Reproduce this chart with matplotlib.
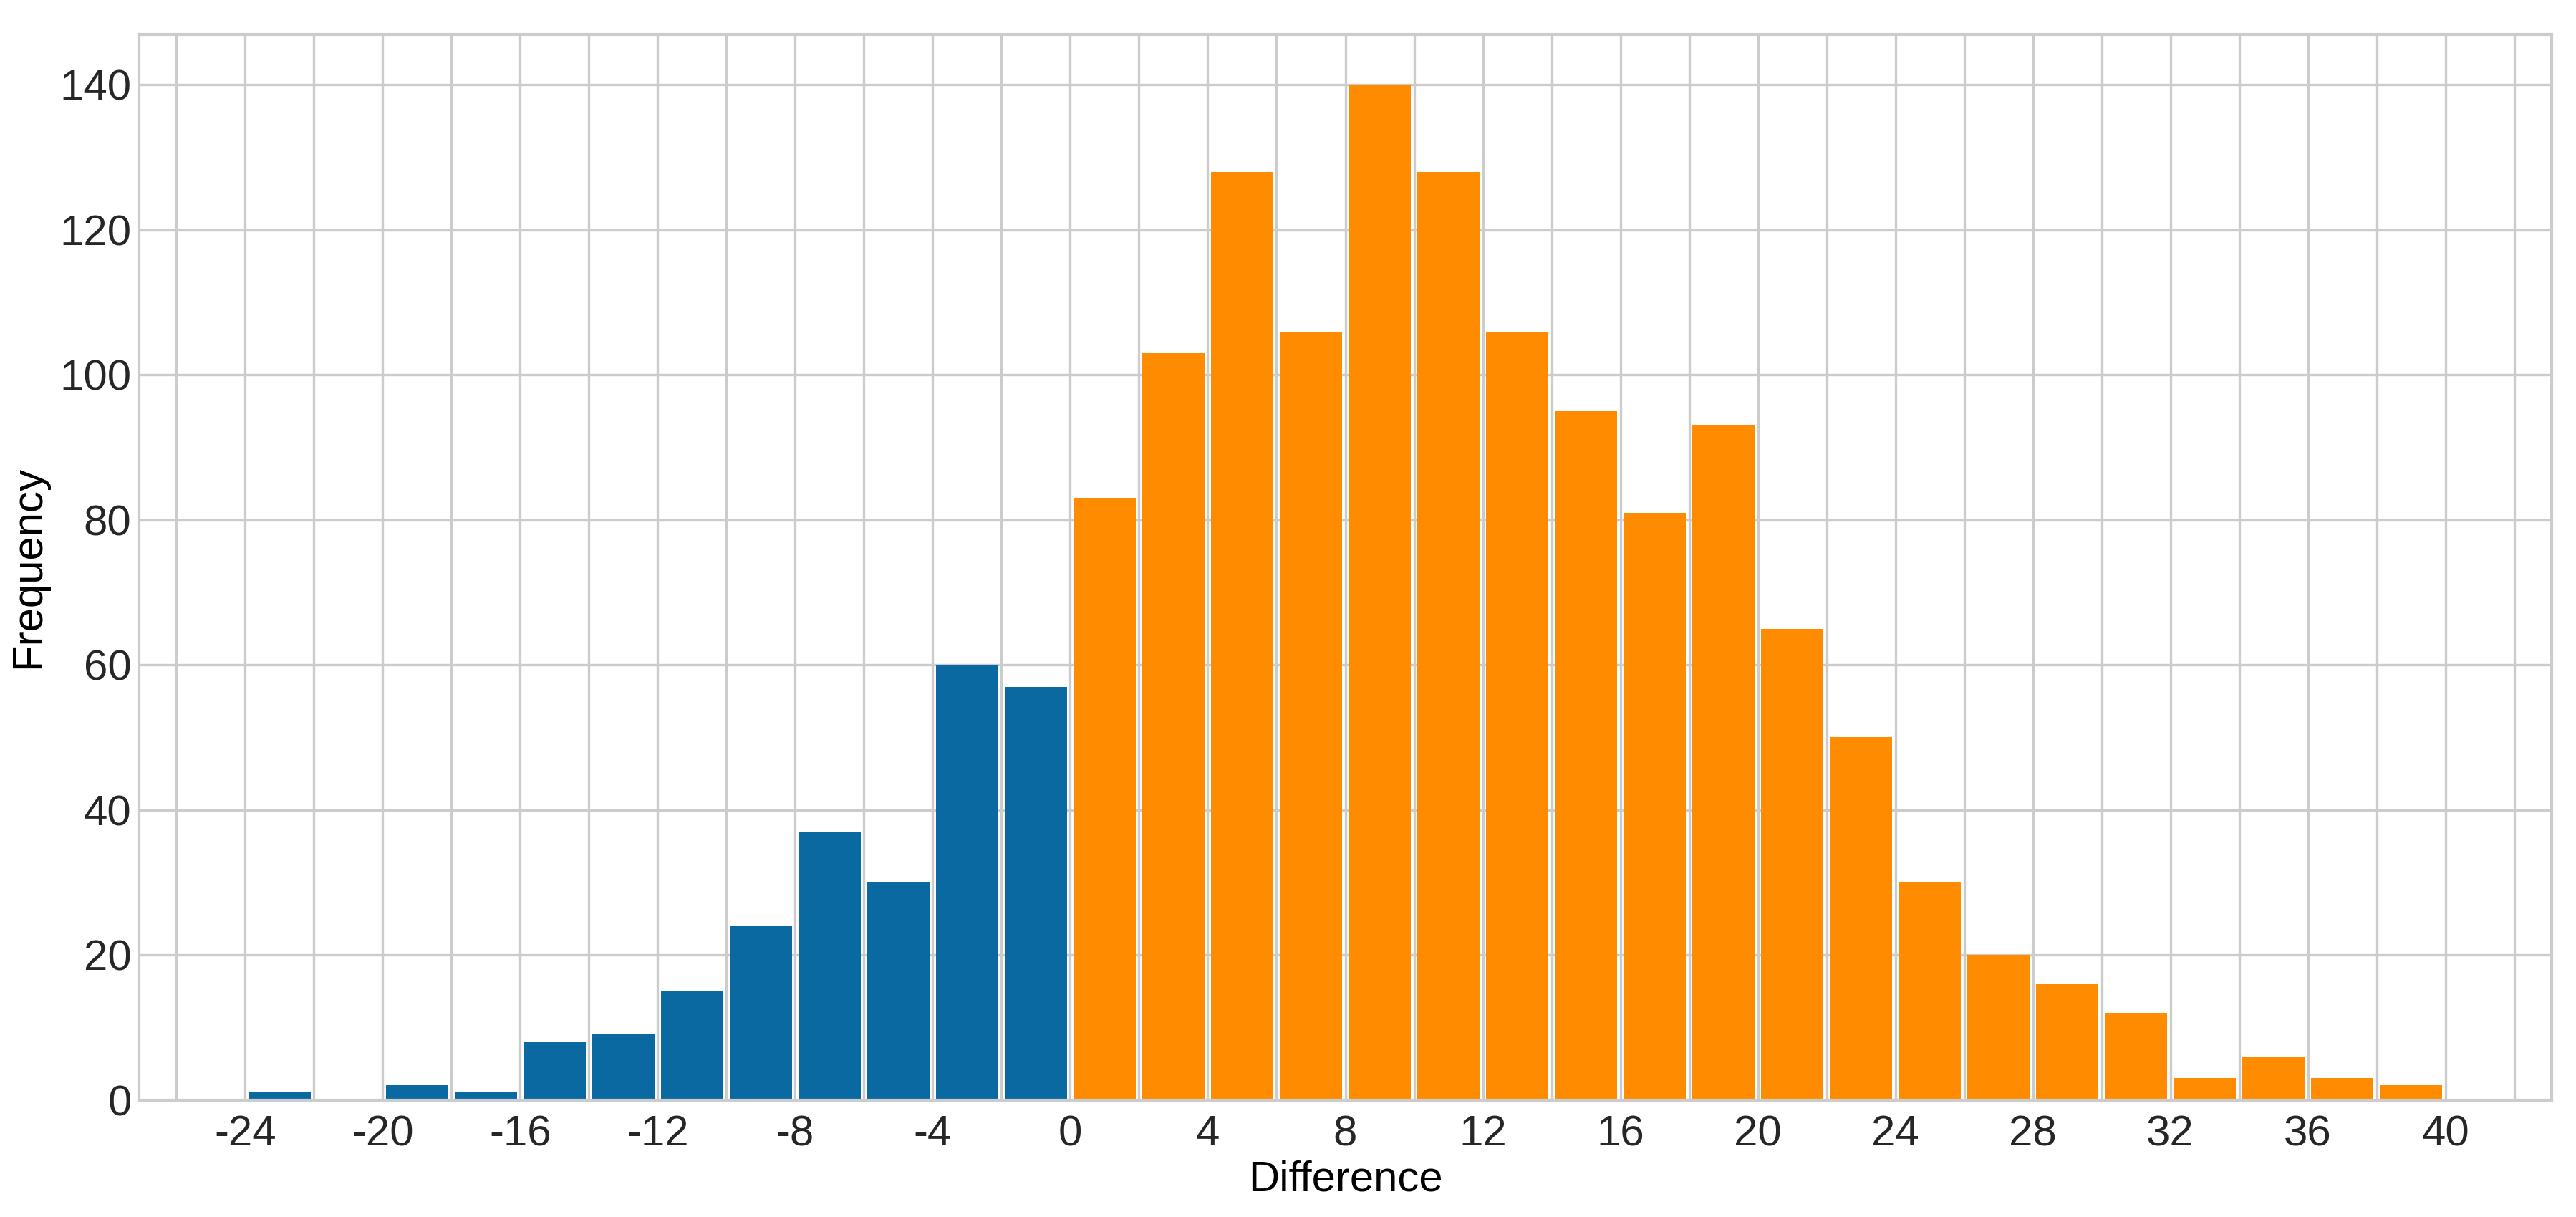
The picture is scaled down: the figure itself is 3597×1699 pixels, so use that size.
#!/usr/bin/env python3
# -*- coding: utf-8 -*-

import matplotlib
matplotlib.use('Agg')
import matplotlib.pyplot as plt
from matplotlib.ticker import MultipleLocator

# histogram bins (left edge of each 2-wide bin) and counts
neg_bins = [-24, -22, -20, -18, -16, -14, -12, -10, -8, -6, -4, -2]
neg_counts = [1, 0, 2, 1, 8, 9, 15, 24, 37, 30, 60, 57]

pos_bins = [0, 2, 4, 6, 8, 10, 12, 14, 16, 18, 20, 22, 24, 26, 28, 30, 32, 34, 36, 38]
pos_counts = [83, 103, 128, 106, 140, 128, 106, 95, 81, 93, 65, 50,
              30, 20, 16, 12, 3, 6, 3, 2]

bin_width = 2
x_ticks = [-24, -20, -16, -12, -8, -4, 0, 4, 8, 12, 16, 20, 24, 28, 32, 36, 40]
y_ticks = [0, 20, 40, 60, 80, 100, 120, 140]

blue = '#0a69a1'
orange = '#ff8c00'


def draw_hist(ax, starts, counts, color):
    edges = starts + [starts[-1] + bin_width]
    centers = [s + bin_width / 2 for s in starts]
    ax.hist(centers, bins=edges, weights=counts, rwidth=0.9, color=color)


def main():
    plt.rcParams['font.family'] = ['Liberation Sans', 'DejaVu Sans']
    plt.rcParams['font.size'] = 14.4
    plt.rcParams['axes.unicode_minus'] = False

    fig = plt.figure(figsize=(3597 / 300, 1699 / 300), dpi=300)
    ax = fig.add_axes([194 / 3597, 1 - 1535.5 / 1699,
                       (3563 - 194) / 3597, (1535.5 - 47.5) / 1699])

    ax.set_axisbelow(True)
    draw_hist(ax, neg_bins, neg_counts, blue)
    draw_hist(ax, pos_bins, pos_counts, orange)

    ax.set_xticks(x_ticks)
    ax.xaxis.set_minor_locator(MultipleLocator(2))
    ax.set_yticks(y_ticks)
    ax.grid(True, which='both', color='#cccccc', linewidth=0.8)
    ax.tick_params(which='both', length=0, colors='#262626', labelsize=14.4)
    ax.tick_params(axis='x', pad=5)
    ax.tick_params(axis='y', pad=2.5)

    for sp in ax.spines.values():
        sp.set_color('#cccccc')
        sp.set_linewidth(1.0)

    ax.set_xlabel('Difference', fontsize=14.4, color='black', labelpad=2)
    ax.set_ylabel('Frequency', fontsize=14.4, color='black', labelpad=4)

    fig.savefig('out.png', dpi=300, facecolor='white')


if __name__ == "__main__":
    main()
